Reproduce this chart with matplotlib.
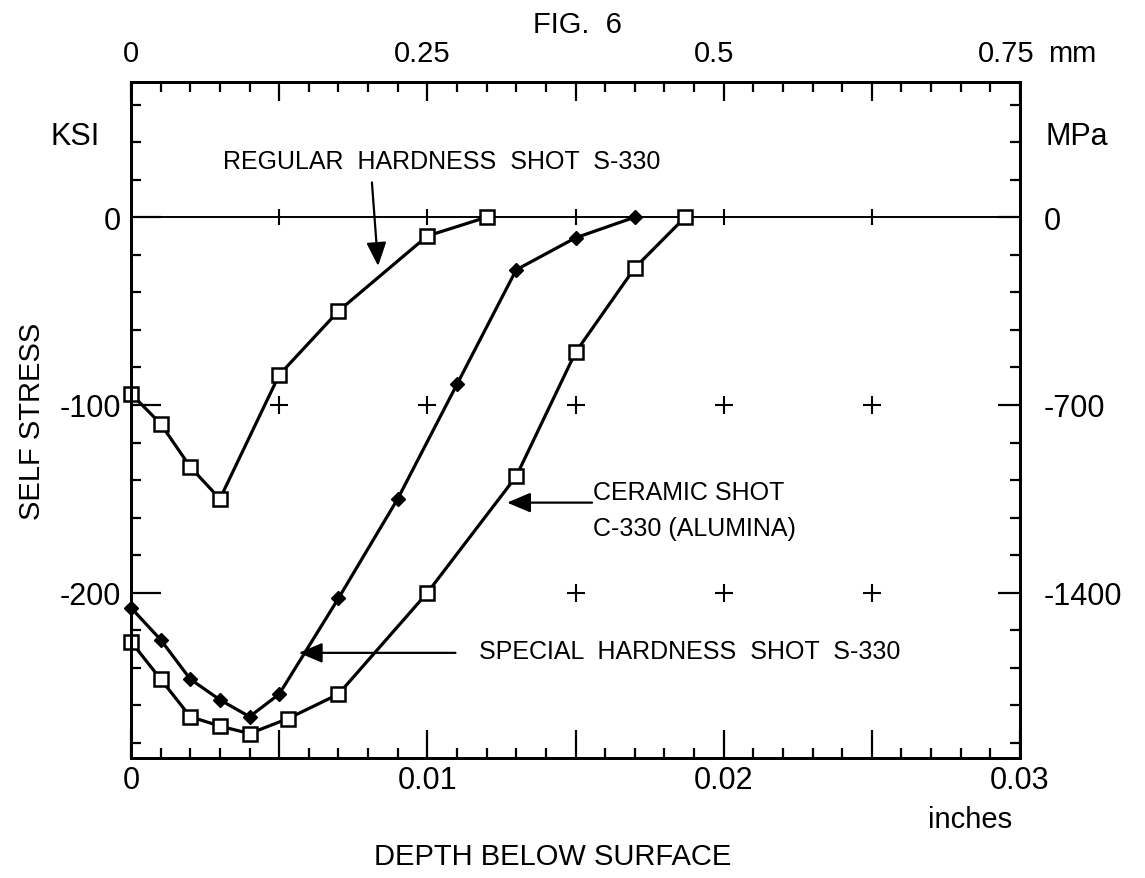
import numpy as np
import matplotlib
matplotlib.use("Agg")
import matplotlib.pyplot as plt
from matplotlib import transforms
from matplotlib.ticker import MultipleLocator

plt.rcParams["font.family"] = ["Liberation Sans", "DejaVu Sans"]

# FIG. 6 - self stress (KSI) vs depth below surface (inches)
depth_regular = [0, 0.001, 0.002, 0.003, 0.005, 0.007, 0.010, 0.012]
stress_regular = [-94, -110, -133, -150, -84, -50, -10, 0]

depth_ceramic = [0, 0.001, 0.002, 0.003, 0.004, 0.005, 0.007, 0.009, 0.011, 0.013, 0.015, 0.017]
stress_ceramic = [-208, -225, -246, -257, -266, -254, -203, -150, -89, -28, -11, 0]

depth_special = [0, 0.001, 0.002, 0.003, 0.004, 0.0053, 0.007, 0.010, 0.013, 0.015, 0.017, 0.0187]
stress_special = [-226, -246, -266, -271, -275, -267, -254, -200, -138, -72, -27, 0]

inch_ticks = [0, 0.005, 0.01, 0.015, 0.02, 0.025, 0.03]
inch_labels = ["0", "", "0.01", "", "0.02", "", "0.03"]
ksi_ticks = [0, -100, -200]
ksi_labels = ["0", "-100", "-200"]
mpa_labels = ["0", "-700", "-1400"]
mm_values = [0, 0.25, 0.5, 0.75]
mm_labels = ["0", "0.25", "0.5", "0.75"]

# grid crosses drawn inside the plot
cross_x_100 = [0.005, 0.01, 0.015, 0.02, 0.025]
cross_x_200 = [0.015, 0.02, 0.025]
zero_marks_x = [0.005, 0.01, 0.015, 0.02, 0.025]

W, H = 1145, 879
fig = plt.figure(figsize=(W / 100, H / 100), dpi=100)
ax = fig.add_axes([131 / W, 1 - 759 / H, 889 / W, 676 / H])
ax.set_xlim(0, 0.03)
ax.set_ylim(-288, 72)

ax.axhline(0, color="k", lw=1.4, zorder=1)
ax.plot(cross_x_100, [-100] * len(cross_x_100), "+", color="k", ms=13, mew=1.5)
ax.plot(cross_x_200, [-200] * len(cross_x_200), "+", color="k", ms=13, mew=1.5)
ax.plot(zero_marks_x, [0] * len(zero_marks_x), "|", color="k", ms=12, mew=1.5)

ax.plot(depth_regular, stress_regular, "-s", color="k", lw=2.3, ms=10,
        mfc="white", mec="k", mew=1.8, clip_on=False, zorder=3)
ax.plot(depth_ceramic, stress_ceramic, "-D", color="k", lw=2.3, ms=7.5,
        mfc="k", mec="k", clip_on=False, zorder=3)
ax.plot(depth_special, stress_special, "-s", color="k", lw=2.3, ms=10,
        mfc="white", mec="k", mew=1.8, clip_on=False, zorder=3)

# annotations
arrow = dict(arrowstyle="-|>,head_length=0.9,head_width=0.38", color="k",
             lw=1.6, mutation_scale=16, shrinkA=0, shrinkB=0)
ax.text(0.0031, 30, "REGULAR  HARDNESS  SHOT  S-330", fontsize=18,
        ha="left", va="center")
ax.annotate("", xy=(0.00834, -26), xytext=(0.00813, 18.5), arrowprops=arrow)
ax.text(0.01558, -146.5, "CERAMIC SHOT", fontsize=18, ha="left", va="center")
ax.text(0.01558, -165.5, "C-330 (ALUMINA)", fontsize=18, ha="left", va="center")
ax.annotate("", xy=(0.01269, -152), xytext=(0.01556, -152), arrowprops=arrow)
ax.text(0.01176, -231, "SPECIAL  HARDNESS  SHOT  S-330", fontsize=18,
        ha="left", va="center")
ax.annotate("", xy=(0.00566, -232), xytext=(0.01095, -232), arrowprops=arrow)

# bottom / left axes
ax.set_xticks(inch_ticks, labels=inch_labels)
ax.xaxis.set_minor_locator(MultipleLocator(0.001))
ax.set_yticks(ksi_ticks, labels=ksi_labels)
ax.yaxis.set_minor_locator(MultipleLocator(20))
ax.tick_params(axis="x", which="major", direction="in", length=20, width=1.6,
               labelsize=22, pad=5)
ax.tick_params(axis="x", which="minor", direction="in", length=7, width=1.6)
ax.tick_params(axis="y", which="major", direction="in", length=21.5, width=1.6,
               labelsize=22, pad=7)
ax.tick_params(axis="y", which="minor", direction="in", length=7, width=1.6)

# right axis in MPa
axr = ax.twinx()
axr.set_ylim(ax.get_ylim())
axr.set_yticks(ksi_ticks, labels=mpa_labels)
axr.yaxis.set_minor_locator(MultipleLocator(20))
axr.tick_params(axis="y", which="major", direction="in", length=16, width=1.6,
                labelsize=22, pad=17)
axr.tick_params(axis="y", which="minor", direction="in", length=7, width=1.6)

# top ticks
axt = ax.twiny()
axt.set_xlim(ax.get_xlim())
axt.set_xticks(inch_ticks, labels=[""] * len(inch_ticks))
axt.xaxis.set_minor_locator(MultipleLocator(0.001))
axt.tick_params(axis="x", which="major", direction="in", length=13.5, width=1.6)
axt.tick_params(axis="x", which="minor", direction="in", length=7, width=1.6)

for a in (ax, axr, axt):
    for s in a.spines.values():
        s.set_linewidth(2.0)

# mm scale written above the top axis
trans = transforms.blended_transform_factory(ax.transData, fig.transFigure)
for v, lab in zip(mm_values, mm_labels):
    ax.text(v / 25.4, 1 - 62 / H, lab, transform=trans, fontsize=21,
            ha="center", va="baseline")
ax.annotate("mm", xy=(mm_values[-1] / 25.4, 1 - 62 / H), xycoords=trans,
            xytext=(30, 0), textcoords="offset points", fontsize=21,
            ha="left", va="baseline")

fig.text(577 / W, 1 - 33 / H, "FIG.  6", fontsize=21, ha="center", va="baseline")
fig.text(75 / W, 1 - 137 / H, "KSI", fontsize=22, ha="center", va="center")
fig.text(1045 / W, 1 - 137 / H, "MPa", fontsize=22, ha="left", va="center")
fig.text(32 / W, 1 - 421 / H, "SELF STRESS", fontsize=21, rotation=90,
         ha="center", va="center")
fig.text(928 / W, 1 - 828 / H, "inches", fontsize=21, ha="left", va="baseline")
fig.text(553 / W, 1 - 865 / H, "DEPTH BELOW SURFACE", fontsize=21,
         ha="center", va="baseline")

fig.savefig("out.png", dpi=100)
